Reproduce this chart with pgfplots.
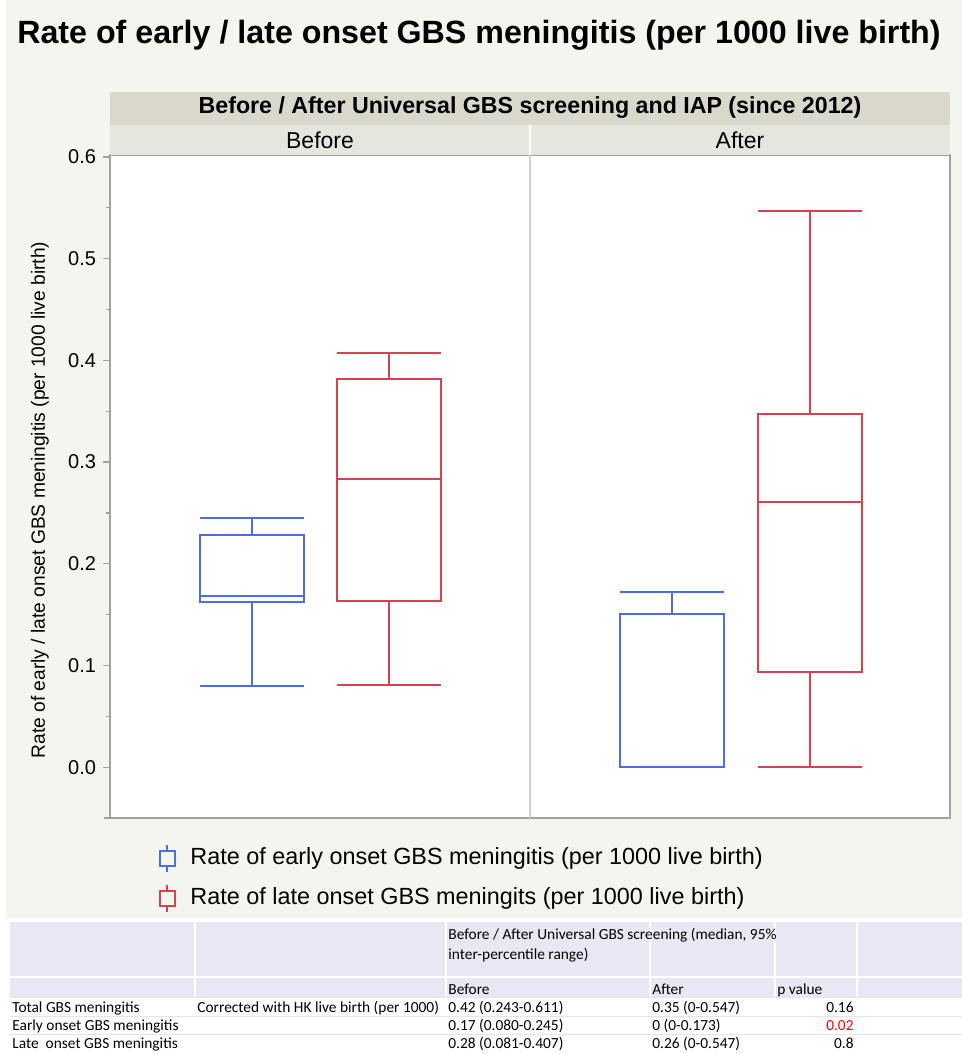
\documentclass[border=0pt]{standalone}
\usepackage{fontspec}
\setmainfont{Liberation Sans}
\newfontfamily\calib{Carlito}
\usepackage{pgfplots}
\pgfplotsset{compat=1.18}
\usepgfplotslibrary{statistics}
\definecolor{bgc}{HTML}{F5F5F0}
\definecolor{hd1}{HTML}{DAD8CC}
\definecolor{hd2}{HTML}{E7E6DE}
\definecolor{jblue}{HTML}{4B6FE0}
\definecolor{jred}{HTML}{D4434F}
\definecolor{axg}{HTML}{A0A0A0}
\definecolor{tlav}{HTML}{E8E8F4}
\begin{document}
\begin{tikzpicture}
\begin{scope}[x=0.5pt,y=-0.5pt]
\fill[white] (0,0) rectangle (962,1054);
\fill[bgc] (6,0) rectangle (962,918);
\end{scope}
\begin{axis}[at={(55pt,-409pt)}, anchor=south west, scale only axis,
  width=420pt, height=331.5pt,
  xmin=1.10, xmax=9.50, ymin=-0.05, ymax=0.602,
  axis background/.style={fill=white},
  axis line style={axg, line width=0.6pt},
  xtick=\empty,
  ytick={0,0.1,0.2,0.3,0.4,0.5,0.6},
  minor y tick num=1,
  tick pos=left, tick align=outside,
  major tick length=3.5pt, minor tick length=2pt,
  every tick/.style={axg, line width=0.6pt},
  yticklabel style={font=\fontsize{10}{12}\selectfont, /pgf/number format/.cd, fixed, fixed zerofill, precision=1, assume math mode=true},
  boxplot/draw direction=y,
  boxplot/box extend=1.04, boxplot/whisker extend=1.04,
  clip=false]
\addplot[jblue, line width=1pt, boxplot prepared={draw position=2.52, lower whisker=0.080, lower quartile=0.162, median=0.168, upper quartile=0.228, upper whisker=0.245}] coordinates {};
\addplot[jred, line width=1pt, boxplot prepared={draw position=3.89, lower whisker=0.081, lower quartile=0.163, median=0.283, upper quartile=0.382, upper whisker=0.407}] coordinates {};
\addplot[jblue, line width=1pt, boxplot prepared={draw position=6.72, lower whisker=0, lower quartile=0, median=0, upper quartile=0.151, upper whisker=0.172}] coordinates {};
\addplot[jred, line width=1pt, boxplot prepared={draw position=8.10, lower whisker=0, lower quartile=0.094, median=0.261, upper quartile=0.347, upper whisker=0.547}] coordinates {};
\draw[color=black!18, line width=0.6pt] (axis cs:5.30,-0.05) -- (axis cs:5.30,0.602);
\end{axis}
\begin{scope}[x=0.5pt,y=-0.5pt]
\draw[axg, line width=0.6pt] (104,818) -- (110,818);
% title
\node[font=\bfseries\fontsize{16.1}{19}\selectfont] at (479,35) {Rate of early / late onset GBS meningitis (per 1000 live birth)};
% header
\fill[hd1] (110,92) rectangle (950,125);
\fill[hd2] (110,125) rectangle (950,155);
\draw[white, line width=0.8pt] (530,125) -- (530,155);
\node[font=\bfseries\fontsize{11.6}{13}\selectfont] at (530,108) {Before / After Universal GBS screening and IAP (since 2012)};
\node[font=\fontsize{11.5}{13}\selectfont] at (320,140) {Before};
\node[font=\fontsize{11.5}{13}\selectfont] at (740,140) {After};
% y label
\node[rotate=90, font=\fontsize{9.6}{11}\selectfont] at (40,500) {Rate of early / late onset GBS meningitis (per 1000 live birth)};
% legend
\draw[jblue, line width=0.8pt] (167,845) -- (167,851) (167,866) -- (167,872);
\draw[jblue, line width=0.8pt] (160,851) rectangle (175,866);
\node[anchor=west, font=\fontsize{11.7}{13}\selectfont, inner sep=0pt] at (190,858) {Rate of early onset GBS meningitis (per 1000 live birth)};
\draw[jred, line width=0.8pt] (167,885) -- (167,891) (167,906) -- (167,912);
\draw[jred, line width=0.8pt] (160,891) rectangle (175,906);
\node[anchor=west, font=\fontsize{11.7}{13}\selectfont, inner sep=0pt] at (190,898) {Rate of late onset GBS meningits (per 1000 live birth)};
% table
\fill[tlav] (10,922) rectangle (962,997);
\foreach \xx in {195,446,650,775,857} {\draw[white, line width=0.8pt] (\xx,922) -- (\xx,997);}
\draw[white, line width=0.8pt] (10,977) -- (962,977);
\foreach \yy in {997,1016,1034} {\draw[black!10, line width=0.4pt] (10,\yy) -- (962,\yy);}
\begin{scope}[every node/.style={anchor=base west, inner sep=0pt, font=\calib\fontsize{7.7}{9}\selectfont}]
\node at (448,939) {Before / After Universal GBS screening (median, 95\%};
\node at (448,959) {inter-percentile range)};
\node at (448,994) {Before};
\node at (652,994) {After};
\node at (777,994) {p value};
\node at (12,1012) {Total GBS meningitis};
\node at (197,1012) {Corrected with HK live birth (per 1000)};
\node at (448,1012) {0.42 (0.243-0.611)};
\node at (652,1012) {0.35 (0-0.547)};
\node at (12,1030) {Early onset GBS meningitis};
\node at (448,1030) {0.17 (0.080-0.245)};
\node at (652,1030) {0 (0-0.173)};
\node at (12,1048) {Late\ \ onset GBS meningitis};
\node at (448,1048) {0.28 (0.081-0.407)};
\node at (652,1048) {0.26 (0-0.547)};
\end{scope}
\begin{scope}[every node/.style={anchor=base east, inner sep=0pt, font=\calib\fontsize{7.7}{9}\selectfont}]
\node at (854,1012) {0.16};
\node[text=red] at (854,1030) {0.02};
\node at (854,1048) {0.8};
\end{scope}
\pgfresetboundingbox
\path[use as bounding box] (0,0) rectangle (962,1054);
\end{scope}
\end{tikzpicture}
\end{document}
